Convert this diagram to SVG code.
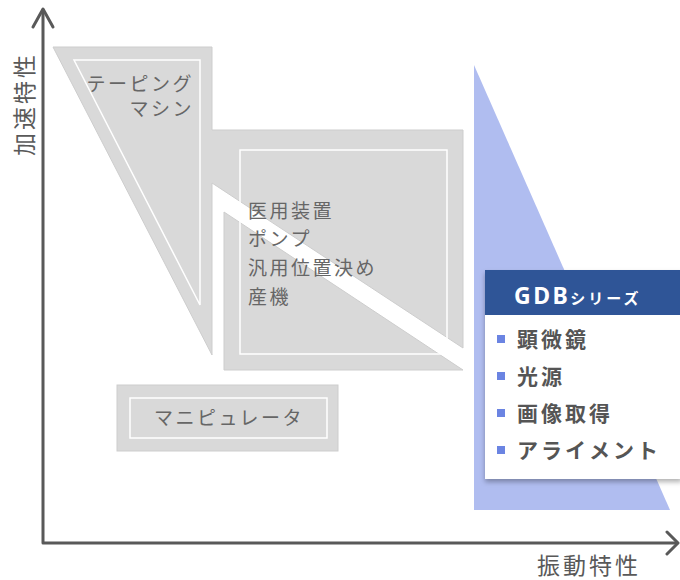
<svg xmlns="http://www.w3.org/2000/svg" width="680" height="580" viewBox="0 0 680 580">
<defs>
<style>
.area{fill:#d9d9d9;stroke:#cdcdcd;stroke-width:1}
.inner{fill:none;stroke:#ffffff;stroke-width:1.5}
.lbl{font-family:"Noto Sans CJK JP","Noto Sans",sans-serif;font-size:19px;fill:#666666;letter-spacing:2.5px}
.axislbl{font-family:"Noto Sans CJK JP","Noto Sans",sans-serif;font-size:23px;fill:#595959;letter-spacing:3px}
.item{font-family:"Noto Sans CJK JP","Noto Sans",sans-serif;font-size:21px;font-weight:bold;fill:#555555;letter-spacing:3px}
.bullet{fill:#6b84e2}
.axis{fill:none;stroke:#595959;stroke-width:3;stroke-linecap:round;stroke-linejoin:round}
</style>
<filter id="shadow" x="-10%" y="-10%" width="130%" height="130%">
<feDropShadow dx="0" dy="3" stdDeviation="2.5" flood-color="#000000" flood-opacity="0.3"/>
</filter>
</defs>
<rect width="680" height="580" fill="#ffffff"/>

<g id="gdb-area">
<polygon points="474,65 474,510 670,510" fill="#b0bdf0"/>
</g>

<g id="taping-medical">
<polygon class="area" points="53,47 212,47 212,130 463,130 463,348 212,183 212,355"/>
<polygon class="area" points="224,212 463,370 224,370"/>
<polygon class="inner" points="74,60 200,60 200,305"/>
<rect class="inner" x="240" y="150" width="207" height="204"/>
<text class="lbl" x="194" y="91" text-anchor="end">テーピング</text>
<text class="lbl" x="194" y="116" text-anchor="end">マシン</text>
<text class="lbl" x="248" y="218">医用装置</text>
<text class="lbl" x="248" y="246">ポンプ</text>
<text class="lbl" x="248" y="275">汎用位置決め</text>
<text class="lbl" x="248" y="304">産機</text>
</g>

<g id="manipulator">
<rect class="area" x="117" y="385" width="221" height="66"/>
<rect class="inner" x="130" y="398" width="197" height="40"/>
<text class="lbl" x="229" y="425" text-anchor="middle">マニピュレータ</text>
</g>

<g id="gdb-box">
<rect x="485" y="270" width="197" height="209" fill="#ffffff" filter="url(#shadow)"/>
<rect x="485" y="270" width="197" height="45" fill="#2f5597"/>
<text x="514" y="304" font-family="'Noto Sans','Noto Sans CJK JP',sans-serif" font-weight="bold" fill="#ffffff"><tspan font-size="23" letter-spacing="2.5">GDB</tspan><tspan font-size="15" letter-spacing="3" font-family="'Noto Sans CJK JP',sans-serif">シリーズ</tspan></text>
<rect class="bullet" x="497" y="335" width="8" height="8"/>
<text class="item" x="517" y="347">顕微鏡</text>
<rect class="bullet" x="497" y="372" width="8" height="8"/>
<text class="item" x="517" y="384">光源</text>
<rect class="bullet" x="497" y="409" width="8" height="8"/>
<text class="item" x="517" y="421">画像取得</text>
<rect class="bullet" x="497" y="446" width="8" height="8"/>
<text class="item" x="517" y="458">アライメント</text>
</g>

<g id="axes">
<polyline class="axis" points="43,10 43,543 677,543"/>
<polyline class="axis" points="33,27 43,9 53,27"/>
<polyline class="axis" points="667,532 678,543 667,554"/>
<text class="axislbl" transform="translate(33,156) rotate(-90)">加速特性</text>
<text class="axislbl" x="537" y="574">振動特性</text>
</g>
</svg>
